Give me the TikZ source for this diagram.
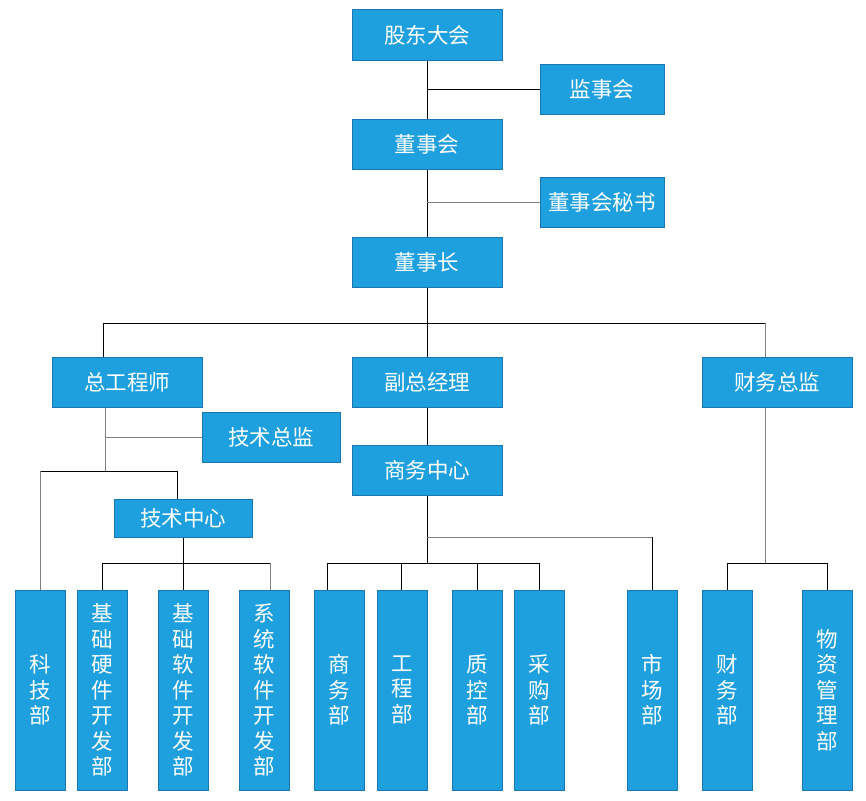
\documentclass[tikz,border=0pt]{standalone}
\usepackage{fontspec}
\setmainfont{Noto Sans CJK SC}
\definecolor{boxfill}{RGB}{30,159,222}
\definecolor{boxedge}{RGB}{26,118,178}
\definecolor{lgray}{RGB}{128,128,128}
\begin{document}
\begin{tikzpicture}[x=1pt,y=-1pt,
  box/.style={draw=boxedge, fill=boxfill, text=white, line width=1pt, inner sep=0pt,
    font=\fontsize{21.5}{25.5}\selectfont, align=center},
  hbox/.style={box, minimum width=150pt, minimum height=50pt},
  sbox/.style={box, minimum width=124pt, minimum height=50pt},
  vbox/.style={box, minimum width=50pt, minimum height=200pt},
  ln/.style={line width=1pt, draw=black},
  gln/.style={line width=1pt, draw=lgray}]
\useasboundingbox (0,0) rectangle (866,800);
% top chain
\node[hbox] (gd) at (427,35) {股东大会};
\node[sbox] (jsh) at (602,89) {监事会};
\node[hbox] (dsh) at (427,144) {董事会};
\node[sbox] (ms) at (602,202) {董事会秘书};
\node[hbox] (dsz) at (427,262) {董事长};
% second level
\node[hbox] (zgc) at (127,382) {总工程师};
\node[hbox] (fzjl) at (427,382) {副总经理};
\node[hbox] (cwzj) at (777,382) {财务总监};
\node[box, minimum width=138pt, minimum height=50pt] (jszj) at (271,437) {技术总监};
\node[hbox] (swzx) at (427,470) {商务中心};
\node[box, minimum width=138pt, minimum height=38pt] (jszx) at (183,518) {技术中心};
% bottom
\node[vbox] (kjb) at (40,690) {科\\技\\部};
\node[vbox] (jcyj) at (102,690) {基\\础\\硬\\件\\开\\发\\部};
\node[vbox] (jcrj) at (183,690) {基\\础\\软\\件\\开\\发\\部};
\node[vbox] (xtrj) at (264,690) {系\\统\\软\\件\\开\\发\\部};
\node[vbox] (swb) at (339,690) {商\\务\\部};
\node[vbox] (gcb) at (402,690) {工\\程\\部};
\node[vbox] (zkb) at (477,690) {质\\控\\部};
\node[vbox] (cgb) at (539,690) {采\\购\\部};
\node[vbox] (scb) at (652,690) {市\\场\\部};
\node[vbox] (cwb) at (727,690) {财\\务\\部};
\node[vbox] (wzb) at (827,690) {物\\资\\管\\理\\部};
% top connectors
\draw[ln] (gd.south) -- (dsh.north);
\draw[ln] (gd.south |- jsh.west) -- (jsh.west);
\draw[ln] (dsh.south) -- (dsz.north);
\draw[gln] (dsh.south |- ms.west) -- (ms.west);
% level 2
\coordinate (j1) at (427,323);
\coordinate (h1l) at (103,323);
\coordinate (h1r) at (765,323);
\draw[ln] (dsz.south) -- (j1);
\draw[ln] (h1l) -- (h1r);
\draw[ln] (h1l) -- (h1l |- zgc.north);
\draw[ln] (j1) -- (fzjl.north);
\draw[gln] (h1r) -- (h1r |- cwzj.north);
% chief engineer branch
\coordinate (z1) at (105,471);
\draw[gln] (z1 |- zgc.south) -- (z1);
\draw[gln] (z1 |- jszj.west) -- (jszj.west);
\coordinate (k1) at (40,471);
\coordinate (k2) at (177,471);
\draw[ln] (k1) -- (k2);
\draw[gln] (k1) -- (k1 |- kjb.north);
\draw[ln] (k2) -- (k2 |- jszx.north);
% tech center
\coordinate (t0) at (183,563);
\coordinate (tl) at (102,563);
\coordinate (tr) at (270,563);
\draw[ln] (jszx.south) -- (t0);
\draw[ln] (tl) -- (tr);
\draw[ln] (tl) -- (jcyj.north);
\draw[ln] (t0) -- (jcrj.north);
\draw[gln] (tr) -- (tr |- xtrj.north);
% business center
\draw[ln] (fzjl.south) -- (swzx.north);
\coordinate (s0) at (427,563);
\coordinate (sm) at (427,537);
\coordinate (smr) at (652,537);
\draw[ln] (swzx.south) -- (s0);
\draw[gln] (sm) -- (smr);
\draw[ln] (smr) -- (scb.north);
\coordinate (sl) at (327,563);
\coordinate (sr) at (539,563);
\coordinate (sg) at (401,563);
\draw[ln] (sl) -- (sr);
\draw[ln] (sl) -- (sl |- swb.north);
\draw[ln] (sg) -- (sg |- gcb.north);
\draw[ln] (477,563) -- (zkb.north);
\draw[ln] (sr) -- (cgb.north);
% finance
\coordinate (f0) at (765,563);
\draw[gln] (f0 |- cwzj.south) -- (f0);
\coordinate (fl) at (727,563);
\coordinate (fr) at (827,563);
\draw[ln] (fl) -- (fr);
\draw[ln] (fl) -- (cwb.north);
\draw[ln] (fr) -- (wzb.north);
\end{tikzpicture}
\end{document}
